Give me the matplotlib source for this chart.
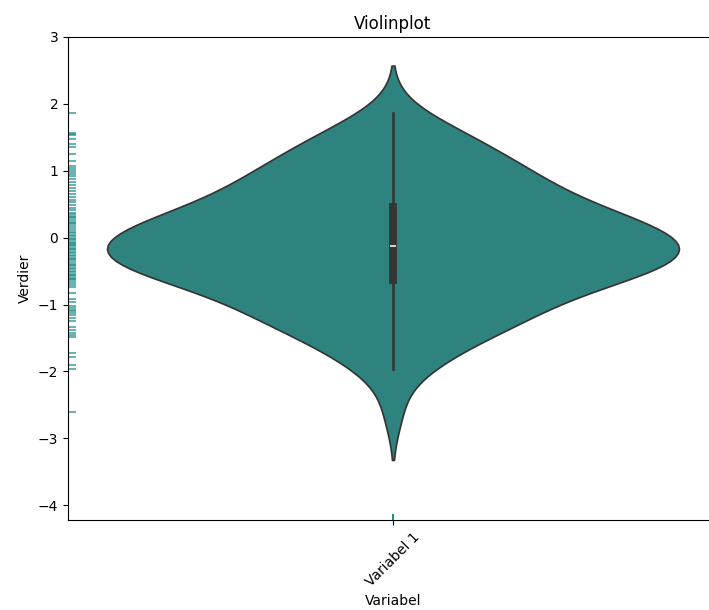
import numpy as np
import pandas as pd
import matplotlib
matplotlib.use("Agg")
import matplotlib.pyplot as plt
import seaborn as sns

# Observations for the single variable
categories = ["Variabel 1"]
values = [
    1.86, 1.57, 1.55, 1.53, 1.47, 1.40, 1.35, 1.25, 1.15, 1.07,
    1.04, 1.01, 0.98, 0.95, 0.92, 0.88, 0.83, 0.79, 0.75, 0.70,
    0.66, 0.61, 0.57, 0.53, 0.49,
    0.44, 0.41, 0.37, 0.35, 0.33, 0.31, 0.29, 0.27, 0.24, 0.22,
    0.20, 0.17, 0.15, 0.12, 0.09, 0.07, 0.04, 0.02, 0.00, -0.02,
    -0.04, -0.06, -0.08, -0.10, -0.11,
    -0.13, -0.15, -0.17, -0.19, -0.21, -0.23, -0.26, -0.28, -0.30, -0.32,
    -0.34, -0.36, -0.39, -0.41, -0.43, -0.45, -0.47, -0.50, -0.52, -0.54,
    -0.56, -0.58, -0.60, -0.61, -0.62,
    -0.65, -0.68, -0.71, -0.74, -0.82, -0.91, -0.96, -1.02, -1.05, -1.08,
    -1.10, -1.12, -1.16, -1.20, -1.24, -1.33, -1.38, -1.42, -1.45, -1.48,
    -1.72, -1.78, -1.91, -1.96, -2.61,
]

df = pd.DataFrame({"Variabel": categories[0], "Verdier": values})
color = plt.get_cmap("viridis")(0.5)

fig = plt.figure(figsize=(7.09, 6.10), dpi=100)
ax = fig.add_axes([68 / 709, 90 / 610, 650 / 709, 483 / 610])

sns.violinplot(data=df, x="Variabel", y="Verdier", color=color,
               width=0.88, inner="box", ax=ax)

# Rug marks along both axes, at the category position on x
pos = np.full(len(values), categories.index("Variabel 1"), dtype=float)
sns.rugplot(x=pos, y=values, height=0.012, color=color, alpha=0.75,
            linewidth=1.3, ax=ax)

ax.set_xlim(-0.5, 0.5)
ax.set_ylim(-4.22, 3.0)
ax.set_xticks([0])
ax.set_xticklabels(categories, rotation=45)
ax.spines["right"].set_visible(False)
ax.set_title("Violinplot")
ax.set_xlabel("Variabel")
ax.set_ylabel("Verdier")

fig.savefig("out.png", dpi=100)
